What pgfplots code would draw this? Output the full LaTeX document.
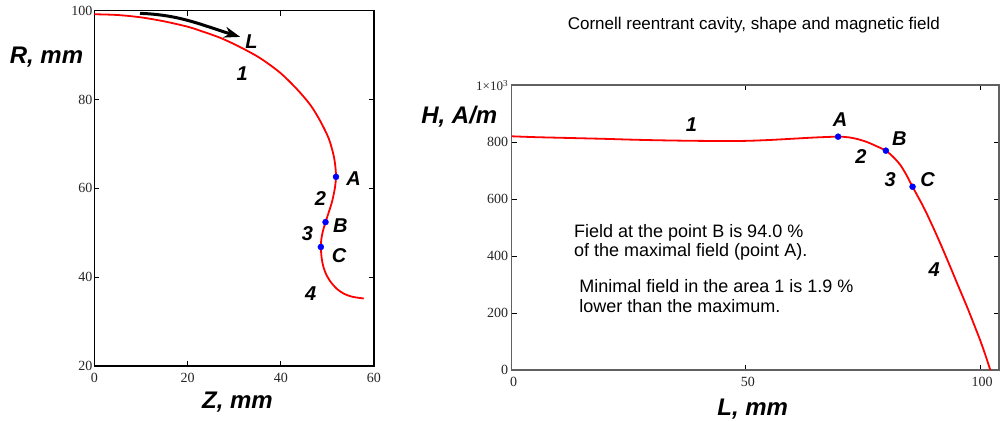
\documentclass[border=0pt]{standalone}
\usepackage{fontspec}
\setmainfont{Liberation Serif}
\newfontfamily\arial{Liberation Sans}
\usepackage{pgfplots}
\pgfplotsset{compat=1.18}
\usetikzlibrary{arrows.meta}

\pgfplotsset{
  mystyle/.style={
    scale only axis, anchor=south west, clip=false,
    tick align=inside, major tick length=5pt,
    /pgf/number format/assume math mode=true,
    tick label style={font=\fontsize{14}{14}\selectfont, text=black!85},
    xticklabel style={yshift=-4pt},
    every tick/.style={black, line width=0.8pt},
  },
}
\tikzset{lbl/.style={font=\arial\bfseries\itshape\fontsize{20}{20}\selectfont}}

\pgfplotstableread{
Z R
0 99.2
5 99.03
10 98.5
15 97.6
20 96.4
22.7 95.5
27.0 93.9
31.3 91.8
35.6 89.3
39.9 86.0
43.5 82.3
46.4 78.7
48.5 75.1
50.3 71.2
51.3 67.6
51.7 65.0
51.85 62.6
51.6 60.0
51.0 57.0
50.2 54.3
49.6 52.4
49.0 50.2
48.7 48.5
48.6 46.8
48.75 44.5
49.1 42.5
49.8 40.5
50.8 38.8
52.0 37.4
53.5 36.3
55.3 35.6
57.8 35.2
}\shapetable

\pgfplotstableread{
L H
0 820
5 817
10 815
15 813
20 811
25 808.5
30 806.5
35 805
40 804
45 803.5
50 804
55 807
60 811.5
65 816
69.7 818.7
72 816.2
74 809.5
76 799
78 784.5
79.9 769.6
81.5 747
83 719
84.3 684
85.6 643
87.9 573
89.7 511
91.5 445
93.6 364
95.4 293
97.2 223
98.6 165
100 106
101.1 55
102.2 0
}\fieldtable

\begin{document}
\begin{tikzpicture}
\path[use as bounding box] (0,0) rectangle (1000pt,420pt);

% ---------- left: shape ----------
\begin{axis}[mystyle,
  at={(94.3pt,54pt)}, width=279.7pt, height=355.3pt,
  xmin=0, xmax=60, ymin=20, ymax=100,
  xtick={0,20,40,60}, ytick={20,40,60,80,100},
  axis line style={black, line width=1.2pt},
  yticklabel style={xshift=1.5pt},
]
\addplot[red, line width=1.8pt, smooth] table[x=Z,y=R] {\shapetable};
\addplot[only marks, mark=*, blue, mark size=3pt] coordinates {(51.85,62.6) (49.6,52.4) (48.6,46.8)};
\draw[black, line width=3pt, -{Stealth[length=16pt,width=11pt,inset=5pt]}]
  (axis cs:9.8,99.4) to[out=-2,in=163] (axis cs:31.3,94.1);
\node[lbl] at (axis cs:33.7,93.0) {L};
\node[lbl] at (axis cs:31.7,85.9) {1};
\node[lbl] at (axis cs:55.6,62.3) {A};
\node[lbl] at (axis cs:48.5,57.8) {2};
\node[lbl] at (axis cs:52.8,51.7) {B};
\node[lbl] at (axis cs:45.7,49.9) {3};
\node[lbl] at (axis cs:52.5,44.8) {C};
\node[lbl] at (axis cs:46.4,36.4) {4};
\end{axis}

% ---------- right: field ----------
\begin{axis}[mystyle,
  at={(511.7pt,50pt)}, width=487.3pt, height=285pt,
  xmin=0, xmax=104.06, ymin=0, ymax=1000,
  xtick={0,50,100}, ytick={0,200,400,600,800,1000},
  yticklabels={0,200,400,600,800,{}},
  axis line style={black!62, line width=1.2pt},
  xticklabel style={xshift=2pt},
]
\addplot[red, line width=1.8pt, smooth] table[x=L,y=H] {\fieldtable};
\addplot[only marks, mark=*, blue, mark size=3pt] coordinates {(69.7,818.7) (79.9,769.6) (85.6,643)};
\node[lbl] at (axis cs:38.4,860) {1};
\node[lbl] at (axis cs:70.1,877) {A};
\node[lbl] at (axis cs:74.6,748) {2};
\node[lbl] at (axis cs:82.8,813) {B};
\node[lbl] at (axis cs:80.8,669) {3};
\node[lbl] at (axis cs:88.8,669) {C};
\node[lbl] at (axis cs:90.2,351) {4};
\begin{scope}[every node/.style={anchor=base west, inner sep=0pt, font=\arial\fontsize{18}{18}\selectfont}]
\node at (axis cs:13.3,464.6) {Field at the point B is 94.0 \%};
\node at (axis cs:13.3,396.8) {of the maximal field (point A).};
\node at (axis cs:14.4,271.6) {Minimal field in the area 1 is 1.9 \%};
\node at (axis cs:14.4,201.4) {lower than the maximum.};
\end{scope}
\end{axis}

% ---------- outside labels ----------
\node[anchor=base east, inner sep=0pt, font=\fontsize{13}{13}\selectfont, text=black!85] at (508.3pt,329.3pt) {1×10\textsuperscript{3}};
\node[anchor=base, inner sep=0pt, font=\arial\bfseries\itshape\fontsize{24}{24}\selectfont] at (46.5pt,356.7pt) {R, mm};
\node[anchor=base, inner sep=0pt, font=\arial\bfseries\itshape\fontsize{24}{24}\selectfont] at (237.5pt,11.7pt) {Z, mm};
\node[anchor=base, inner sep=0pt, font=\arial\bfseries\itshape\fontsize{24}{24}\selectfont] at (459.3pt,296.7pt) {H, A/m};
\node[anchor=base, inner sep=0pt, font=\arial\bfseries\itshape\fontsize{24}{24}\selectfont] at (752.7pt,5pt) {L, mm};
\node[anchor=base, inner sep=0pt, font=\arial\fontsize{17}{17}\selectfont] at (753.8pt,390.7pt) {Cornell reentrant cavity, shape and magnetic field};
\end{tikzpicture}
\end{document}
